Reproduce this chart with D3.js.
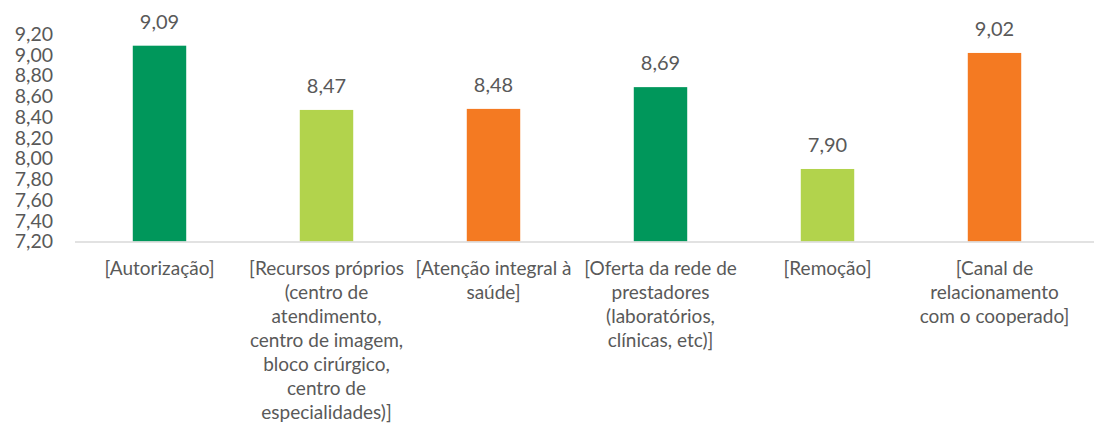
<!DOCTYPE html>
<html>
<head>
<meta charset="utf-8">
<script src="https://cdn.jsdelivr.net/npm/d3@7"></script>
<style>
  body { margin: 0; background: #fff; }
  text { font-family: Lato, "Open Sans", sans-serif; fill: #595959; }
</style>
</head>
<body>
<div id="chart"></div>
<script>
// category names (line breaks as in the original)
const categories = [
  "[Autorização]",
  "[Recursos próprios\n(centro de\natendimento,\ncentro de imagem,\nbloco cirúrgico,\ncentro de\nespecialidades)]",
  "[Atenção integral à\nsaúde]",
  "[Oferta da rede de\nprestadores\n(laboratórios,\nclínicas, etc)]",
  "[Remoção]",
  "[Canal de\nrelacionamento\ncom o cooperado]"
];
const values = [9.09, 8.47, 8.48, 8.69, 7.90, 9.02];
const barColors = ["#00975B", "#B2D34C", "#F47A22", "#00975B", "#B2D34C", "#F47A22"];
const yTicks = [7.2, 7.4, 7.6, 7.8, 8.0, 8.2, 8.4, 8.6, 8.8, 9.0, 9.2];

let width = 1094, height = 431;
let fmt = d => d3.format(".2f")(d).replace(".", ",");

let svg = d3.select("#chart")
  .append("svg")
    .attr("width", width)
    .attr("height", height);

let xScale = d3.scaleBand()
  .domain(categories)
  .range([76, 1078])
  .paddingInner(0.68)
  .paddingOuter(0.34);

let yScale = d3.scaleLinear()
  .domain([7.2, 9.2])
  .range([241.5, 34.3]);

// y axis labels only (no line, no ticks)
let yAxis = svg.append("g")
  .attr("transform", "translate(55,0)")
  .call(d3.axisLeft(yScale).tickValues(yTicks).tickSize(0).tickPadding(2).tickFormat(fmt));
yAxis.select(".domain").remove();
yAxis.selectAll("text")
  .attr("font-size", 19.5)
  .attr("font-family", null)
  .attr("fill", "#595959");

// bars
svg.append("g")
  .selectAll(".bar")
  .data(values)
  .enter()
  .append("rect")
    .attr("class", "bar")
    .attr("x", (d, i) => xScale(categories[i]))
    .attr("y", d => yScale(d))
    .attr("width", xScale.bandwidth())
    .attr("height", d => yScale(7.2) - yScale(d))
    .attr("fill", (d, i) => barColors[i]);

// baseline
svg.append("line")
  .attr("x1", 75).attr("x2", width)
  .attr("y1", yScale(7.2) + 0.5).attr("y2", yScale(7.2) + 0.5)
  .attr("stroke", "#D9D9D9")
  .attr("stroke-width", 1.5);

// value labels
svg.append("g")
  .selectAll("text")
  .data(values)
  .enter()
  .append("text")
    .attr("x", (d, i) => xScale(categories[i]) + xScale.bandwidth() / 2)
    .attr("y", d => yScale(d) - 17)
    .attr("text-anchor", "middle")
    .attr("font-size", 20)
    .text(fmt);

// category labels
let catG = svg.append("g")
  .selectAll("text")
  .data(categories)
  .enter()
  .append("text")
    .attr("text-anchor", "middle")
    .attr("font-size", 19)
    .attr("transform", d => "translate(" + (xScale(d) + xScale.bandwidth() / 2) + ",275)");

catG.selectAll("tspan")
  .data(d => d.split("\n"))
  .enter()
  .append("tspan")
    .attr("x", 0)
    .attr("y", (d, i) => i * 24)
    .text(d => d);
</script>
</body>
</html>
